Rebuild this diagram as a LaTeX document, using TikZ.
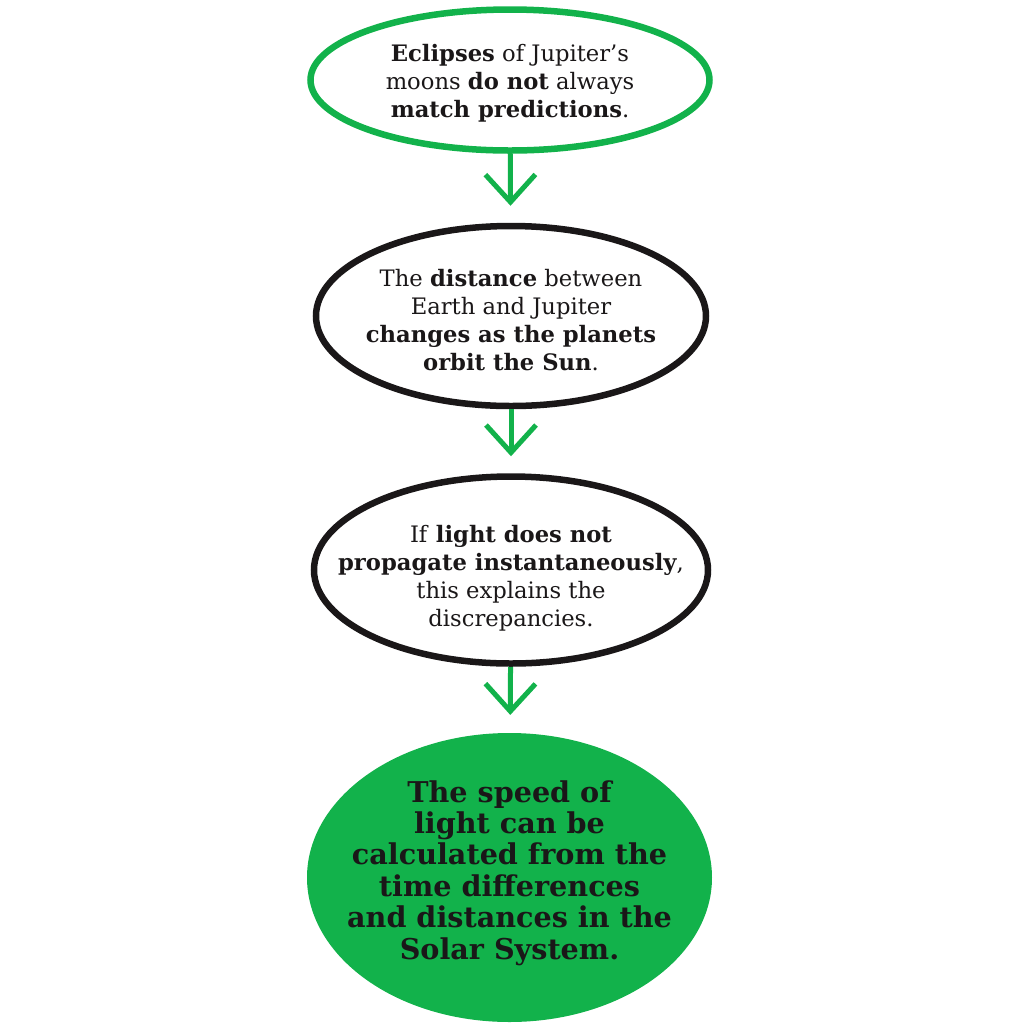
\documentclass[tikz,border=0pt]{standalone}
\usepackage{fontspec}
\setmainfont{DejaVu Serif}
\usetikzlibrary{arrows.meta, shapes.geometric}
\definecolor{cgreen}{HTML}{12B24B}
\definecolor{cink}{HTML}{1A1718}
\tikzset{
  every picture/.style={line width=1.2pt},
  ring/.style={draw=#1, ellipse, inner sep=0pt, line width=0.13cm},
  ring/.default=cink,
  blob/.style={fill=cgreen, ellipse, inner sep=0pt},
  flow/.style={-{Straight Barb[length=0.55cm, width=1.0cm]}, draw=cgreen,
    line width=0.1cm, shorten >=0.34cm},
  note/.style={align=center, text=cink, font=\fontsize{12.9}{15.9}\selectfont},
  claim/.style={align=center, text=cink, font=\fontsize{16.3}{17.9}\selectfont\bfseries},
}
\begin{document}
\begin{tikzpicture}
  \useasboundingbox (0,0) rectangle (20.48,-20.48);
  % the four ovals
  \node[ring=cgreen, minimum width=7.98cm, minimum height=2.82cm] (e1) at (10.2,-1.6) {};
  \node[ring, minimum width=7.8cm, minimum height=3.6cm] (e2) at (10.22,-6.32) {};
  \node[ring, minimum width=7.88cm, minimum height=3.74cm] (e3) at (10.22,-11.4) {};
  \node[blob, minimum width=8.1cm, minimum height=5.78cm] (e4) at (10.19,-17.55) {};
  % texts
  \node[note] (t1) at (10.2,-1.66) {\textbf{Eclipses} of Jupiter’s\\moons \textbf{do not} always\\\textbf{match predictions}.};
  \node[note] (t2) at (10.22,-6.4) {The \textbf{distance} between\\Earth and Jupiter\\\textbf{changes as the planets}\\\textbf{orbit the Sun}.};
  \node[note] (t3) at (10.22,-11.56) {If \textbf{light does not}\\\textbf{propagate instantaneously},\\this explains the\\discrepancies.};
  \node[claim] (t4) at (10.19,-17.46) {The speed of\\light can be\\calculated from the\\time differences\\and distances in the\\Solar System.};
  % arrows
  \draw[flow] (e1) -- (e2);
  \draw[flow] (e2) -- (e3);
  \draw[flow] (e3) -- (e4);
\end{tikzpicture}
\end{document}
